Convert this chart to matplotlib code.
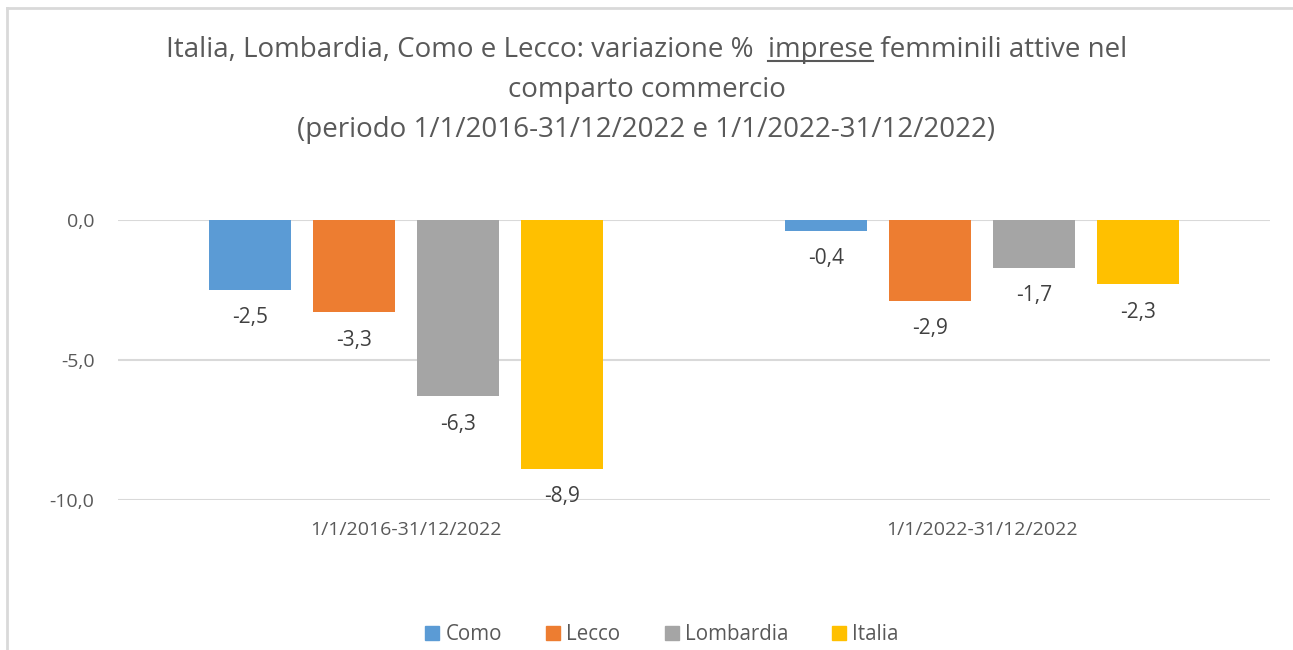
import matplotlib
matplotlib.use("Agg")
import matplotlib.pyplot as plt
import numpy as np
from matplotlib.lines import Line2D
from matplotlib.patches import Patch

plt.rcParams['font.family'] = ['Open Sans', 'DejaVu Sans']

# dati
periodi = ["1/1/2016-31/12/2022", "1/1/2022-31/12/2022"]
serie = ["Como", "Lecco", "Lombardia", "Italia"]
como = [-2.5, -0.4]
lecco = [-3.3, -2.9]
lombardia = [-6.3, -1.7]
italia = [-8.9, -2.3]
valori = [como, lecco, lombardia, italia]
colori = ["#5B9BD5", "#ED7D31", "#A5A5A5", "#FFC000"]
yticks = [0, -5, -10]
ytick_labels = ["0,0", "-5,0", "-10,0"]

W, H = 1293, 650
fig = plt.figure(figsize=(W / 100, H / 100), dpi=100)
ax = fig.add_axes([118 / W, 1 - 500 / H, (1270 - 118) / W, (500 - 220) / H])

x = np.arange(len(periodi))
step = 104 / 576
width = 82 / 576
for i, (nome, vals, col) in enumerate(zip(serie, valori, colori)):
    pos = x + (i - 1.5) * step
    ax.bar(pos, vals, width=width, color=col, label=nome, zorder=3)
    for px, v in zip(pos, vals):
        ax.annotate(f"{v:.1f}".replace(".", ","), (px, v), xytext=(0, -20),
                    textcoords="offset points", ha="center", va="center",
                    fontsize=15, color="#404040")

ax.set_xlim(-0.5, 1.5)
ax.set_ylim(-10, 0)
ax.set_yticks(yticks)
ax.set_yticklabels(ytick_labels)
ax.set_xticks(x)
ax.set_xticklabels(periodi)
ax.tick_params(axis="y", length=0, pad=17, labelsize=14, labelcolor="#595959")
ax.tick_params(axis="x", length=0, pad=15, labelsize=14, labelcolor="#595959")
ax.grid(axis="y", color="#D9D9D9", linewidth=1.5, zorder=0)
for s in ax.spines.values():
    s.set_visible(False)

# titolo
tcol = "#595959"
fs = 20
riga1 = "Italia, Lombardia, Como e Lecco: variazione %  imprese femminili attive nel"
t1 = fig.text(0.5, 1 - 50 / H, riga1, ha="center", va="center", fontsize=fs, color=tcol)
fig.text(0.5, 1 - 90 / H, "comparto commercio", ha="center", va="center", fontsize=fs, color=tcol)
fig.text(0.5, 1 - 130 / H, "(periodo 1/1/2016-31/12/2022 e 1/1/2022-31/12/2022)",
         ha="center", va="center", fontsize=fs, color=tcol)

# sottolineatura di "imprese"
fig.canvas.draw()
r = fig.canvas.get_renderer()
bb = t1.get_window_extent(r)
pre = fig.text(0, 0, "Italia, Lombardia, Como e Lecco: variazione %  ", fontsize=fs)
word = fig.text(0, 0, "imprese", fontsize=fs)
w_pre = pre.get_window_extent(r).width
w_word = word.get_window_extent(r).width
pre.remove()
word.remove()
x0 = bb.x0 + w_pre
yl = bb.y0 + 3
fig.add_artist(Line2D([x0 / W, (x0 + w_word) / W], [yl / H, yl / H], color=tcol, linewidth=1.5))

# legenda
handles = [Patch(color=c) for c in colori]
fig.legend(handles, serie, loc="center", bbox_to_anchor=(662 / W, 1 - 635 / H), ncol=4,
           frameon=False, fontsize=14.8, handlelength=0.68, handleheight=0.68,
           handletextpad=0.3, columnspacing=2.15, labelcolor="#595959")

# cornice
fig.add_artist(Line2D([7 / W, 1], [1 - 8 / H, 1 - 8 / H], color="#D9D9D9", linewidth=2))
fig.add_artist(Line2D([7 / W, 7 / W], [0, 1 - 8 / H], color="#D9D9D9", linewidth=2))

fig.savefig("out.png", dpi=100)
